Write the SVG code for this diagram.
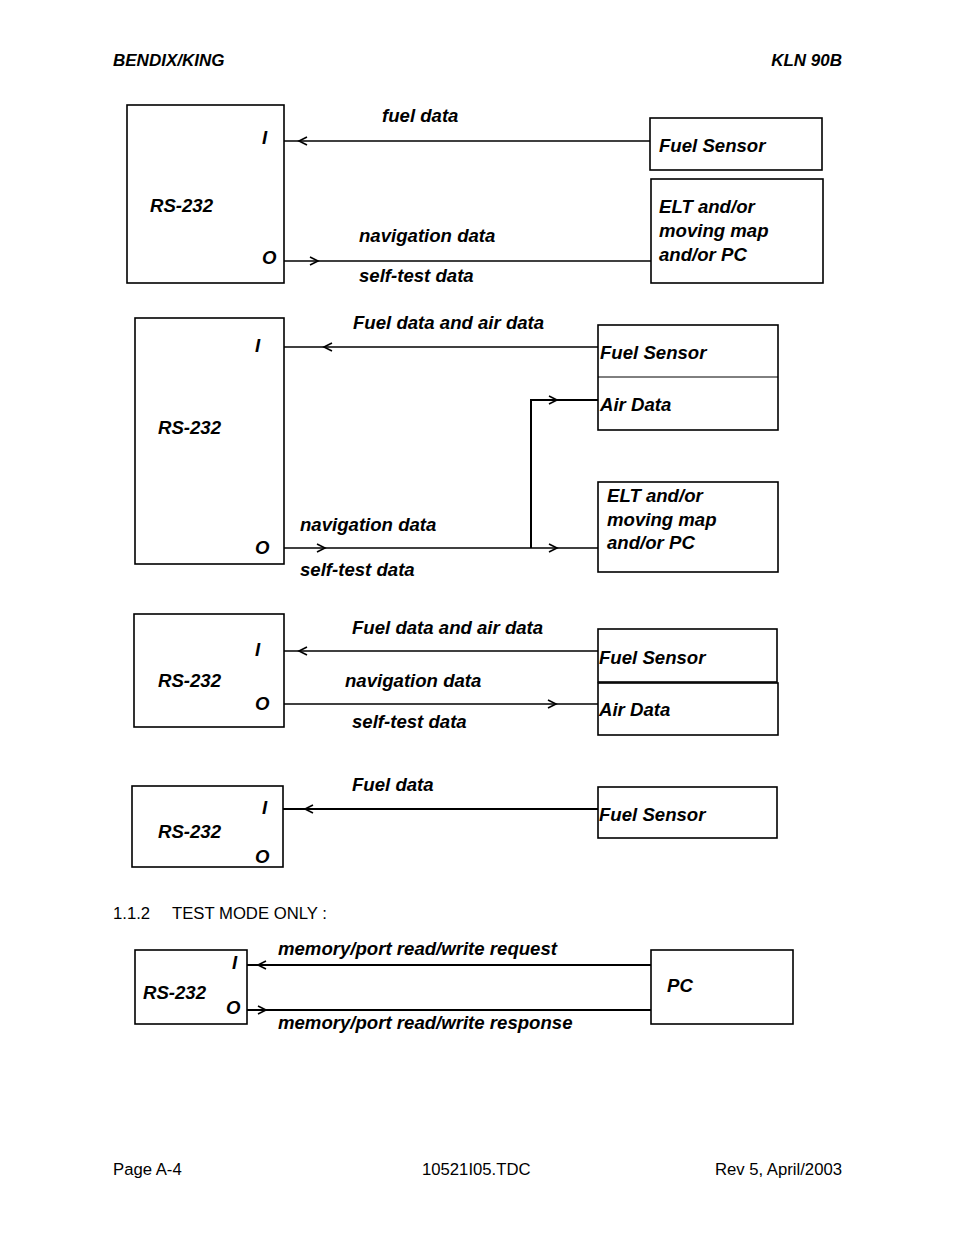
<svg xmlns="http://www.w3.org/2000/svg" width="954" height="1235" viewBox="0 0 954 1235">
<style>
text{font-family:"Liberation Sans",Arial,sans-serif;fill:#000}
.b{font-weight:bold;font-style:italic;font-size:18.6px}
.h{font-weight:bold;font-style:italic;font-size:17px}
.r{font-size:16.7px}
.box{fill:none;stroke:#000;stroke-width:1.6}
.ln{fill:none;stroke:#000;stroke-width:1.5}
.ar{fill:none;stroke:#000;stroke-width:1.6}
</style>
<rect width="954" height="1235" fill="#fff"/>
<g id="header">
<text class="h" x="113" y="66">BENDIX/KING</text>
<text class="h" x="842" y="66" text-anchor="end">KLN 90B</text>
</g>
<g id="connectors">
<line class="ln" x1="284" y1="141" x2="650" y2="141"/>
<polyline class="ar" points="307,137 299,141 307,145"/>
<line class="ln" x1="284" y1="261" x2="651" y2="261"/>
<polyline class="ar" points="310,257 318,261 310,265"/>
<line class="ln" x1="284" y1="347" x2="598" y2="347"/>
<polyline class="ar" points="332,343 324,347 332,351"/>
<line class="ln" x1="284" y1="548" x2="598" y2="548"/>
<polyline class="ar" points="317,544 325,548 317,552"/>
<polyline class="ar" points="549,544 557,548 549,552"/>
<polyline class="ln" points="531,548 531,400 598,400" style="stroke-width:2"/>
<polyline class="ar" points="549,396 557,400 549,404"/>
<line class="ln" x1="284" y1="651" x2="598" y2="651"/>
<polyline class="ar" points="307,647 299,651 307,655"/>
<line class="ln" x1="284" y1="704" x2="598" y2="704"/>
<polyline class="ar" points="548,700 556,704 548,708"/>
<line class="ln" x1="283" y1="809" x2="598" y2="809" style="stroke-width:2"/>
<polyline class="ar" points="313,805 305,809 313,813"/>
<line class="ln" x1="247" y1="965" x2="651" y2="965" style="stroke-width:2"/>
<polyline class="ar" points="266,961 258,965 266,969"/>
<line class="ln" x1="247" y1="1010" x2="651" y2="1010" style="stroke-width:2"/>
<polyline class="ar" points="258,1006 266,1010 258,1014"/>
</g>
<g id="labels">
<text class="b" x="382" y="122">fuel data</text>
<text class="b" x="359" y="242">navigation data</text>
<text class="b" x="359" y="282">self-test data</text>
<text class="b" x="353" y="329">Fuel data and air data</text>
<text class="b" x="300" y="531">navigation data</text>
<text class="b" x="300" y="576">self-test data</text>
<text class="b" x="352" y="634">Fuel data and air data</text>
<text class="b" x="345" y="687">navigation data</text>
<text class="b" x="352" y="728">self-test data</text>
<text class="b" x="352" y="791">Fuel data</text>
<text class="b" x="278" y="955">memory/port read/write request</text>
<text class="b" x="278" y="1029">memory/port read/write response</text>
</g>
<g id="rs232-1">
<rect class="box" x="127" y="105" width="157" height="178"/>
<text class="b" x="262" y="144">I</text>
<text class="b" x="150" y="212">RS-232</text>
<text class="b" x="262" y="264">O</text>
</g>
<g id="fuel-sensor-1">
<rect class="box" x="650" y="118" width="172" height="52"/>
<text class="b" x="659" y="152">Fuel Sensor</text>
</g>
<g id="elt-1">
<rect class="box" x="651" y="179" width="172" height="104"/>
<text class="b" x="659" y="213">ELT and/or</text>
<text class="b" x="659" y="237">moving map</text>
<text class="b" x="659" y="261">and/or PC</text>
</g>
<g id="rs232-2">
<rect class="box" x="135" y="318" width="149" height="246"/>
<text class="b" x="255" y="352">I</text>
<text class="b" x="158" y="434">RS-232</text>
<text class="b" x="255" y="554">O</text>
</g>
<g id="fuel-air-2">
<rect class="box" x="598" y="325" width="180" height="105"/>
<line x1="598" y1="377" x2="778" y2="377" stroke="#000" stroke-width="1"/>
<text class="b" x="600" y="359">Fuel Sensor</text>
<text class="b" x="600" y="411">Air Data</text>
</g>
<g id="elt-2">
<rect class="box" x="598" y="482" width="180" height="90"/>
<text class="b" x="607" y="502">ELT and/or</text>
<text class="b" x="607" y="526">moving map</text>
<text class="b" x="607" y="549">and/or PC</text>
</g>
<g id="rs232-3">
<rect class="box" x="134" y="614" width="150" height="113"/>
<text class="b" x="255" y="656">I</text>
<text class="b" x="158" y="687">RS-232</text>
<text class="b" x="255" y="710">O</text>
</g>
<g id="fuel-sensor-3">
<rect class="box" x="598" y="629" width="179" height="53"/>
<text class="b" x="599" y="664">Fuel Sensor</text>
</g>
<g id="air-data-3">
<rect class="box" x="598" y="683" width="180" height="52"/>
<text class="b" x="599" y="716">Air Data</text>
</g>
<g id="rs232-4">
<rect class="box" x="132" y="786" width="151" height="81"/>
<text class="b" x="262" y="814">I</text>
<text class="b" x="158" y="838">RS-232</text>
<text class="b" x="255" y="863">O</text>
</g>
<g id="fuel-sensor-4">
<rect class="box" x="598" y="787" width="179" height="51"/>
<text class="b" x="599" y="821">Fuel Sensor</text>
</g>
<g id="section">
<text class="r" x="113" y="919">1.1.2</text>
<text class="r" x="172" y="919">TEST MODE ONLY :</text>
</g>
<g id="rs232-5">
<rect class="box" x="135" y="950" width="112" height="74"/>
<text class="b" x="232" y="969">I</text>
<text class="b" x="143" y="999">RS-232</text>
<text class="b" x="226" y="1014">O</text>
</g>
<g id="pc-5">
<rect class="box" x="651" y="950" width="142" height="74"/>
<text class="b" x="667" y="992">PC</text>
</g>
<g id="footer">
<text class="r" x="113" y="1175">Page A-4</text>
<text class="r" x="422" y="1175">10521I05.TDC</text>
<text class="r" x="842" y="1175" text-anchor="end">Rev 5, April/2003</text>
</g>
</svg>
